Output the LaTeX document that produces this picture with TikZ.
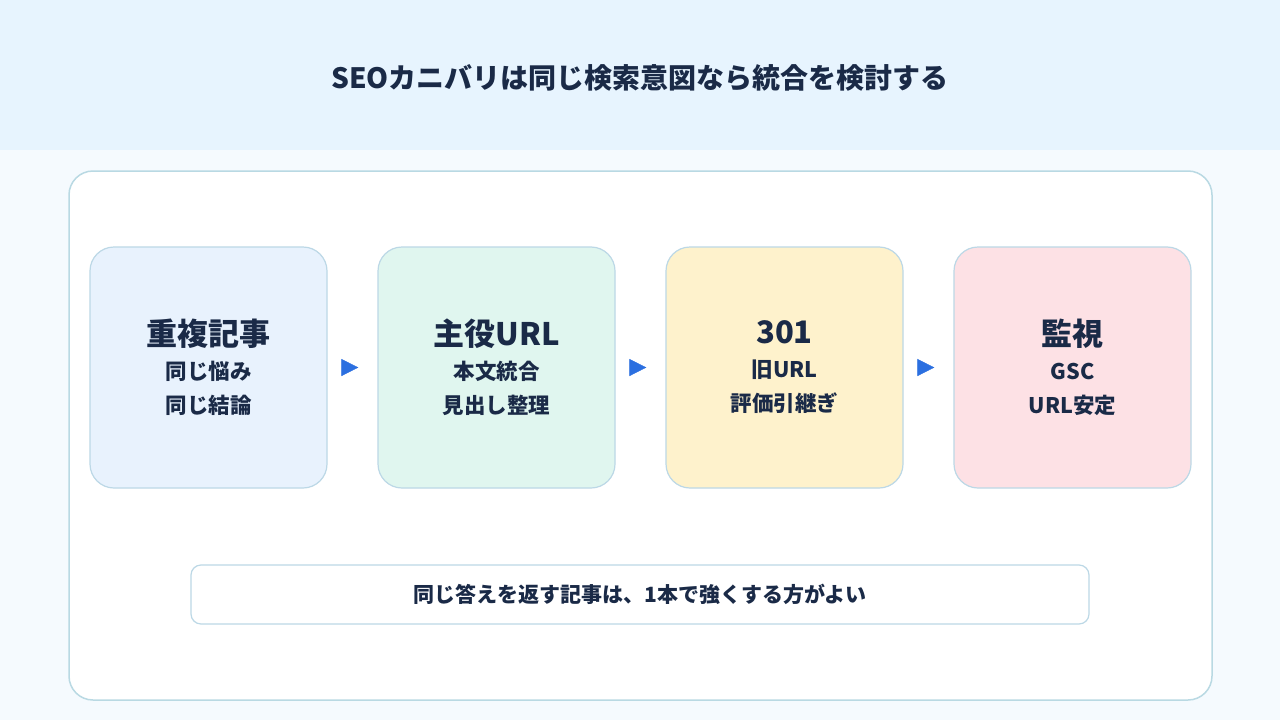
\documentclass[tikz,border=0pt]{standalone}
\usepackage{fontspec}
\setmainfont{Noto Sans CJK JP}
\usetikzlibrary{positioning,arrows.meta}

\definecolor{headbg}{HTML}{E7F4FE}
\definecolor{pagebg}{HTML}{F5FAFE}
\definecolor{panelline}{HTML}{B9D9E3}
\definecolor{cardline}{HTML}{BCD8E6}
\definecolor{ink}{HTML}{1A2A47}
\definecolor{flowblue}{HTML}{2B6FE0}
\definecolor{cardblue}{HTML}{E8F2FD}
\definecolor{cardmint}{HTML}{E0F6EF}
\definecolor{cardsand}{HTML}{FEF2CC}
\definecolor{cardrose}{HTML}{FDE1E5}

\tikzset{
  stepcard/.style={draw=cardline, line width=1.2pt, rounded corners=24pt,
    minimum width=237pt, minimum height=241pt, align=center, text=ink,
    font=\bfseries\fontsize{21.5}{34}\selectfont},
  flow/.style={-{Triangle[length=17pt,width=17pt]}, flowblue,
    shorten <=15pt, shorten >=19pt}
}
\newcommand{\cardtitle}[1]{{\fontsize{31}{34}\selectfont #1}}

\begin{document}
\begin{tikzpicture}[x=1pt, y=-1pt]
    \useasboundingbox (0,0) rectangle (1280,720);

    % Sfondo
    \fill[pagebg] (0,0) rectangle (1280,720);
    \fill[headbg] (0,0) rectangle (1280,150);
    \node[text=ink, font=\bfseries\fontsize{28}{32}\selectfont] (title) at (640,78) {SEOカニバリは同じ検索意図なら統合を検討する};

    % Pannello
    \draw[panelline, line width=1.5pt, fill=white, rounded corners=24pt] (69,171) rectangle (1212,700);

    % Passi
    \node[stepcard, fill=cardblue] (dup) at (208.5,367.5) {\cardtitle{重複記事}\\同じ悩み\\同じ結論};
    \node[stepcard, fill=cardmint, right=49.8pt of dup] (main) {\cardtitle{主役URL}\\本文統合\\見出し整理};
    \node[stepcard, fill=cardsand, right=49.8pt of main] (redir) {\cardtitle{301}\\旧URL\\評価引継ぎ};
    \node[stepcard, fill=cardrose, right=49.8pt of redir] (watch) {\cardtitle{監視}\\GSC\\URL安定};

    % Frecce
    \draw[flow] (dup.east) -- (main.west);
    \draw[flow] (main.east) -- (redir.west);
    \draw[flow] (redir.east) -- (watch.west);

    % Nota
    \node[draw=cardline, line width=1.2pt, fill=white, rounded corners=10pt,
      minimum width=898pt, minimum height=59pt, text=ink,
      font=\bfseries\fontsize{21}{24}\selectfont] (note) at (640,594.5) {同じ答えを返す記事は、1本で強くする方がよい};
\end{tikzpicture}
\end{document}
